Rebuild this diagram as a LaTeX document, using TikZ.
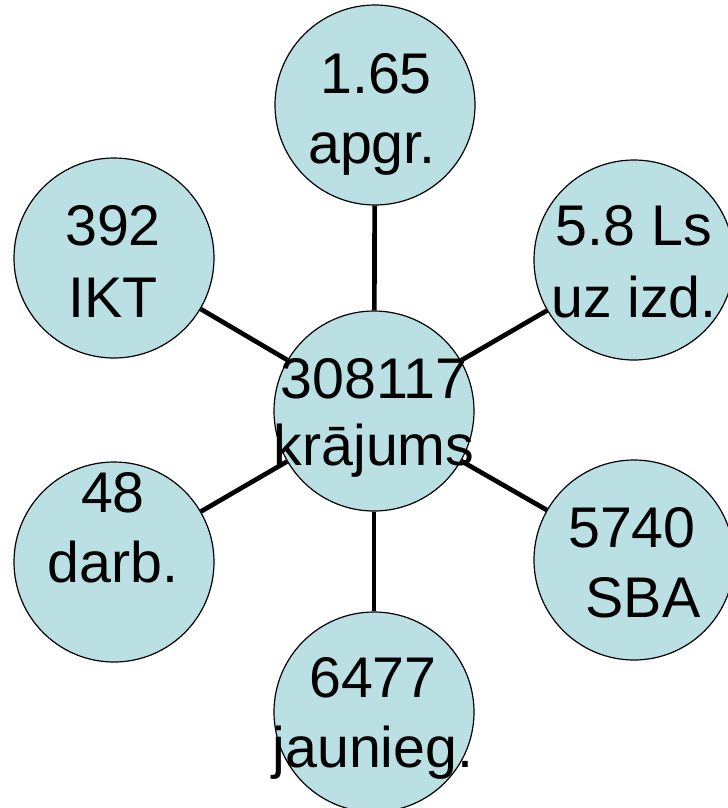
\documentclass[tikz,border=0pt]{standalone}
\usepackage{fontspec}
\setmainfont{Liberation Sans}
\definecolor{bubble}{RGB}{187,224,227}
\begin{document}
\begin{tikzpicture}[x=0.75pt,y=-0.75pt,
  bubble/.style={circle,draw=black,line width=0.9pt,fill=bubble,minimum size=150pt,inner sep=0pt},
  link/.style={line width=3.5pt,black},
  lbl/.style={anchor=base,inner sep=0pt,font=\fontsize{43pt}{52pt}\selectfont}]
\useasboundingbox (0,0) rectangle (728,808);
\node[bubble] (c0) at (374,411) {};
\node[bubble] (c1) at (375,105) {};
\node[bubble] (c2) at (114,258) {};
\node[bubble] (c3) at (634,260) {};
\node[bubble] (c4) at (114,562) {};
\node[bubble] (c5) at (634,560) {};
\node[bubble] (c6) at (374,712) {};
\foreach \i in {1,...,6} \draw[link] (c0) -- (c\i);
\node[lbl] (t0a) at (374,398) {308117};
\node[lbl] (t0b) at (374,465) {krājums};
\node[lbl] (t1a) at (376,93) {1.65};
\node[lbl] (t1b) at (372,163) {apgr.};
\node[lbl] (t2a) at (113,245) {392};
\node[lbl] (t2b) at (113,317) {IKT};
\node[lbl] (t3a) at (634,245) {5.8 Ls};
\node[lbl] (t3b) at (634,317) {uz izd.};
\node[lbl] (t4a) at (113,512) {48};
\node[lbl] (t4b) at (113,582) {darb.};
\node[lbl] (t5a) at (632,547) {5740};
\node[lbl] (t5b) at (643,617) {SBA};
\node[lbl] (t6a) at (373,697) {6477};
\node[lbl] (t6b) at (373,767) {jaunieg.};
\end{tikzpicture}
\end{document}
